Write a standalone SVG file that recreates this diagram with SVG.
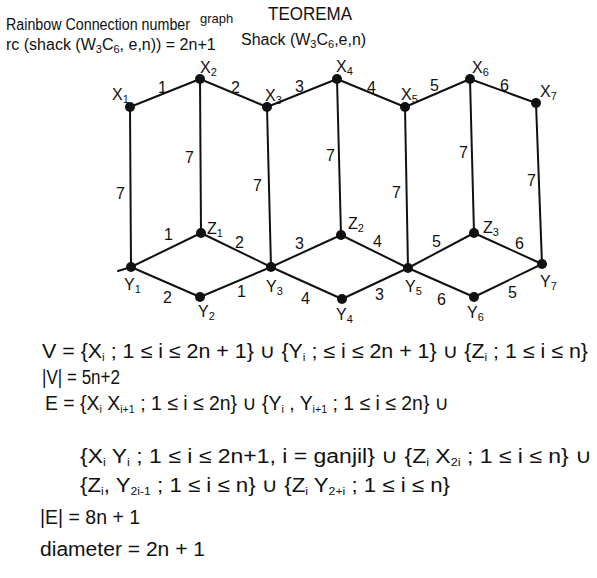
<svg xmlns="http://www.w3.org/2000/svg" width="597" height="578" viewBox="0 0 597 578">
<style>
.e{stroke:#111;stroke-width:2;fill:none;stroke-linecap:round}
.n{fill:#111}
text{font-family:"Liberation Sans","DejaVu Sans",sans-serif;fill:#111}
.lb{font-size:16px}
.el{font-size:16px}
.f{font-size:20px}
.h{font-size:16px}
.s{font-size:11px}
</style>
<rect width="597" height="578" fill="#fff"/>
<g id="header">
<text x="268" y="20" style="font-size:19px" textLength="84" lengthAdjust="spacingAndGlyphs">TEOREMA</text>
<text x="6" y="30" class="h" textLength="184" lengthAdjust="spacingAndGlyphs">Rainbow Connection number</text>
<text x="200" y="23" style="font-size:13px">graph</text>
<text x="241" y="45" class="h">Shack (W<tspan class="s" dy="3">3</tspan><tspan dy="-3">C</tspan><tspan class="s" dy="3">6</tspan><tspan dy="-3">,e,n)</tspan></text>
<text x="6" y="50" class="h">rc (shack (W<tspan class="s" dy="3">3</tspan><tspan dy="-3">C</tspan><tspan class="s" dy="3">6</tspan><tspan dy="-3">, e,n)) = 2n+1</tspan></text>
</g>
<g id="connectors">
<line class="e" x1="130" y1="107" x2="200" y2="79"/>
<line class="e" x1="200" y1="79" x2="267" y2="107"/>
<line class="e" x1="267" y1="107" x2="337" y2="79"/>
<line class="e" x1="337" y1="79" x2="405" y2="107"/>
<line class="e" x1="405" y1="107" x2="470" y2="79"/>
<line class="e" x1="470" y1="79" x2="536" y2="103"/>
<line class="e" x1="130" y1="107" x2="131" y2="267"/>
<line class="e" x1="200" y1="79" x2="201" y2="233"/>
<line class="e" x1="267" y1="107" x2="271" y2="267"/>
<line class="e" x1="337" y1="79" x2="341" y2="235"/>
<line class="e" x1="405" y1="107" x2="408" y2="268"/>
<line class="e" x1="470" y1="79" x2="474" y2="233"/>
<line class="e" x1="536" y1="103" x2="542" y2="264"/>
<line class="e" x1="131" y1="267" x2="201" y2="233"/>
<line class="e" x1="201" y1="233" x2="271" y2="267"/>
<line class="e" x1="131" y1="267" x2="200" y2="297"/>
<line class="e" x1="200" y1="297" x2="271" y2="267"/>
<line class="e" x1="271" y1="267" x2="341" y2="235"/>
<line class="e" x1="341" y1="235" x2="408" y2="268"/>
<line class="e" x1="271" y1="267" x2="342" y2="299"/>
<line class="e" x1="342" y1="299" x2="408" y2="268"/>
<line class="e" x1="408" y1="268" x2="474" y2="233"/>
<line class="e" x1="474" y1="233" x2="542" y2="264"/>
<line class="e" x1="408" y1="268" x2="474" y2="297"/>
<line class="e" x1="474" y1="297" x2="542" y2="264"/>
<line class="e" x1="118" y1="271" x2="131" y2="267"/>
</g>
<g id="edge-labels" class="el">
<text x="158" y="93">1</text>
<text x="231" y="93">2</text>
<text x="295" y="92">3</text>
<text x="367" y="93">4</text>
<text x="430" y="91">5</text>
<text x="500" y="91">6</text>
<text x="116" y="199">7</text>
<text x="185" y="163">7</text>
<text x="253" y="191">7</text>
<text x="326" y="161">7</text>
<text x="392" y="198">7</text>
<text x="459" y="158">7</text>
<text x="527" y="186">7</text>
<text x="164" y="240">1</text>
<text x="235" y="248">2</text>
<text x="295" y="249">3</text>
<text x="373" y="247">4</text>
<text x="432" y="247">5</text>
<text x="515" y="249">6</text>
<text x="163" y="303">2</text>
<text x="237" y="297">1</text>
<text x="301" y="304">4</text>
<text x="375" y="300">3</text>
<text x="437" y="305">6</text>
<text x="508" y="298">5</text>
</g>
<g id="X1"><circle class="n" cx="130" cy="107" r="5"/><text x="112" y="100" class="lb">X<tspan class="s" dy="3">1</tspan></text></g>
<g id="X2"><circle class="n" cx="200" cy="79" r="5"/><text x="200" y="73" class="lb">X<tspan class="s" dy="3">2</tspan></text></g>
<g id="X3"><circle class="n" cx="267" cy="107" r="5"/><text x="265" y="101" class="lb">X<tspan class="s" dy="3">3</tspan></text></g>
<g id="X4"><circle class="n" cx="337" cy="79" r="5"/><text x="336" y="72" class="lb">X<tspan class="s" dy="3">4</tspan></text></g>
<g id="X5"><circle class="n" cx="405" cy="107" r="5"/><text x="401" y="100" class="lb">X<tspan class="s" dy="3">5</tspan></text></g>
<g id="X6"><circle class="n" cx="470" cy="79" r="5"/><text x="472" y="73" class="lb">X<tspan class="s" dy="3">6</tspan></text></g>
<g id="X7"><circle class="n" cx="536" cy="103" r="5"/><text x="540" y="97" class="lb">X<tspan class="s" dy="3">7</tspan></text></g>
<g id="Z1"><circle class="n" cx="201" cy="233" r="5"/><text x="207" y="234" class="lb">Z<tspan class="s" dy="3">1</tspan></text></g>
<g id="Z2"><circle class="n" cx="341" cy="235" r="5"/><text x="348" y="229" class="lb">Z<tspan class="s" dy="3">2</tspan></text></g>
<g id="Z3"><circle class="n" cx="474" cy="233" r="5"/><text x="483" y="233" class="lb">Z<tspan class="s" dy="3">3</tspan></text></g>
<g id="Y1"><circle class="n" cx="131" cy="267" r="5"/><text x="124" y="290" class="lb">Y<tspan class="s" dy="3">1</tspan></text></g>
<g id="Y2"><circle class="n" cx="200" cy="297" r="5"/><text x="198" y="317" class="lb">Y<tspan class="s" dy="3">2</tspan></text></g>
<g id="Y3"><circle class="n" cx="271" cy="267" r="5"/><text x="266" y="292" class="lb">Y<tspan class="s" dy="3">3</tspan></text></g>
<g id="Y4"><circle class="n" cx="342" cy="299" r="5"/><text x="336" y="320" class="lb">Y<tspan class="s" dy="3">4</tspan></text></g>
<g id="Y5"><circle class="n" cx="408" cy="268" r="5"/><text x="405" y="292" class="lb">Y<tspan class="s" dy="3">5</tspan></text></g>
<g id="Y6"><circle class="n" cx="474" cy="297" r="5"/><text x="467" y="318" class="lb">Y<tspan class="s" dy="3">6</tspan></text></g>
<g id="Y7"><circle class="n" cx="542" cy="264" r="5"/><text x="540" y="287" class="lb">Y<tspan class="s" dy="3">7</tspan></text></g>
<g id="formulas" class="f">
<text x="42" y="358" textLength="546" lengthAdjust="spacingAndGlyphs">V = {X<tspan class="s" dy="3">i</tspan><tspan dy="-3"> ; 1 ≤ i ≤ 2n + 1} ∪ {Y</tspan><tspan class="s" dy="3">i</tspan><tspan dy="-3"> ; ≤ i ≤ 2n + 1} ∪ {Z</tspan><tspan class="s" dy="3">i</tspan><tspan dy="-3"> ; 1 ≤ i ≤ n}</tspan></text>
<text x="42" y="384" textLength="78" lengthAdjust="spacingAndGlyphs">|V| = 5n+2</text>
<text x="45" y="410" textLength="404" lengthAdjust="spacingAndGlyphs">E = {X<tspan class="s" dy="3">i</tspan><tspan dy="-3"> X</tspan><tspan class="s" dy="3">i+1</tspan><tspan dy="-3"> ; 1 ≤ i ≤ 2n} ∪ {Y</tspan><tspan class="s" dy="3">i</tspan><tspan dy="-3"> , Y</tspan><tspan class="s" dy="3">i+1</tspan><tspan dy="-3"> ; 1 ≤ i ≤ 2n} ∪</tspan></text>
<text x="80" y="463" textLength="512" lengthAdjust="spacingAndGlyphs">{X<tspan class="s" dy="3">i</tspan><tspan dy="-3"> Y</tspan><tspan class="s" dy="3">i</tspan><tspan dy="-3"> ; 1 ≤ i ≤ 2n+1, i = ganjil} ∪ {Z</tspan><tspan class="s" dy="3">i</tspan><tspan dy="-3"> X</tspan><tspan class="s" dy="3">2i</tspan><tspan dy="-3"> ; 1 ≤ i ≤ n} ∪</tspan></text>
<text x="80" y="492" textLength="370" lengthAdjust="spacingAndGlyphs">{Z<tspan class="s" dy="3">i</tspan><tspan dy="-3">, Y</tspan><tspan class="s" dy="3">2i-1</tspan><tspan dy="-3"> ; 1 ≤ i ≤ n} ∪ {Z</tspan><tspan class="s" dy="3">i</tspan><tspan dy="-3"> Y</tspan><tspan class="s" dy="3">2+i</tspan><tspan dy="-3"> ; 1 ≤ i ≤ n}</tspan></text>
<text x="40" y="524" textLength="100" lengthAdjust="spacingAndGlyphs">|E| = 8n + 1</text>
<text x="40" y="556" textLength="165" lengthAdjust="spacingAndGlyphs">diameter = 2n + 1</text>
</g>
</svg>
